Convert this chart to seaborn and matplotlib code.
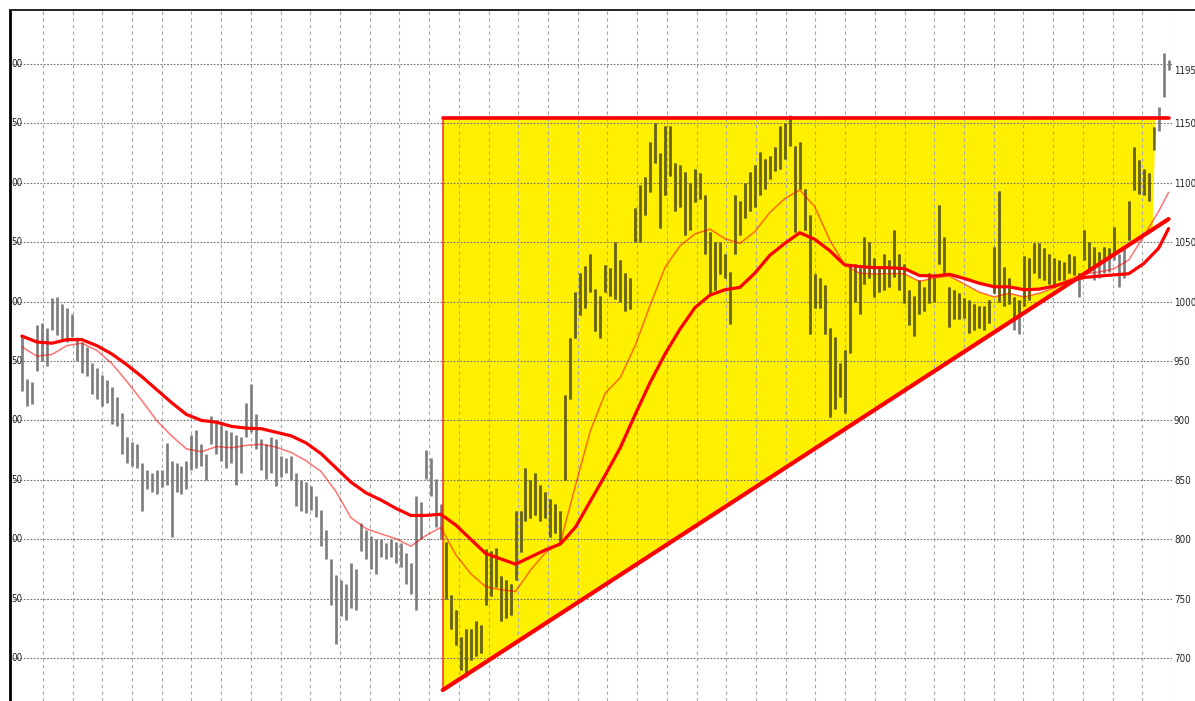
import numpy as np
import matplotlib
matplotlib.use("Agg")
import matplotlib.pyplot as plt
import matplotlib.transforms as mtransforms
from matplotlib import font_manager
from matplotlib.lines import Line2D
import seaborn as sns

# ---------------------------------------------------------------------------
# DATA  (one bar per ~5 px)
# ---------------------------------------------------------------------------
highs = [
    972, 935, 932, 980, 982, 978, 1003, 1004, 998, 995,
    990, 970, 966, 962, 948, 944, 938, 934, 928, 920,
    906, 886, 882, 880, 864, 858, 856, 858, 858, 881,
    866, 864, 862, 866, 888, 892, 880, 872, 904, 900,
    896, 892, 890, 888, 886, 915, 931, 905, 884, 880,
    886, 884, 870, 868, 870, 856, 850, 848, 845, 836,
    825, 808, 783, 770, 766, 762, 780, 775, 814, 808,
    803, 800, 800, 797, 800, 798, 797, 788, 780, 836,
    831, 875, 868, 851, 830, 798, 753, 740, 718, 724,
    724, 731, 728, 792, 790, 793, 769, 766, 762, 824,
    824, 860, 850, 856, 846, 840, 834, 830, 824, 921,
    969, 1008, 1024, 1030, 1040, 1011, 1005, 1031, 1028, 1050,
    1035, 1024, 1020, 1079, 1098, 1105, 1134, 1150, 1125, 1148,
    1148, 1117, 1115, 1109, 1100, 1112, 1108, 1090, 1059, 1050,
    1050, 1040, 1025, 1090, 1085, 1100, 1109, 1115, 1126, 1120,
    1123, 1130, 1148, 1150, 1157, 1131, 1134, 1095, 1073, 1023,
    1020, 1014, 978, 970, 948, 959, 1032, 1032, 1028, 1054,
    1050, 1037, 1030, 1040, 1035, 1060, 1040, 1032, 1010, 1005,
    1018, 1012, 1024, 1020, 1081, 1054, 1012, 1010, 1007, 1003,
    1001, 998, 996, 996, 1001, 1046, 1093, 1029, 1020, 1004,
    1001, 1038, 1037, 1049, 1049, 1045, 1040, 1037, 1035, 1033,
    1040, 1038, 1024, 1060, 1050, 1046, 1042, 1046, 1045, 1063,
    1040, 1045, 1085, 1130, 1119, 1112, 1108, 1147, 1164, 1209, 1203,
]
lows = [
    925, 912, 914, 942, 950, 946, 976, 972, 968, 966,
    970, 950, 940, 937, 922, 918, 912, 915, 897, 895,
    872, 864, 862, 860, 824, 842, 840, 838, 844, 846,
    802, 840, 838, 842, 858, 860, 862, 850, 880, 872,
    866, 860, 864, 846, 856, 886, 890, 876, 858, 851,
    856, 845, 852, 856, 850, 828, 824, 822, 825, 819,
    794, 783, 745, 712, 735, 732, 742, 740, 790, 783,
    775, 771, 785, 783, 785, 780, 777, 762, 754, 740,
    800, 851, 836, 810, 800, 750, 724, 711, 690, 684,
    698, 702, 704, 745, 752, 760, 731, 734, 736, 766,
    789, 815, 818, 820, 815, 818, 802, 805, 798, 850,
    918, 969, 989, 995, 1008, 975, 969, 1008, 1005, 1002,
    1000, 992, 994, 1050, 1050, 1073, 1092, 1117, 1062, 1090,
    1106, 1076, 1080, 1056, 1060, 1084, 1086, 1040, 1006, 1010,
    1023, 1020, 981, 1040, 1056, 1070, 1076, 1080, 1090, 1095,
    1103, 1110, 1112, 1120, 1131, 1059, 1095, 1060, 973, 995,
    995, 973, 903, 910, 920, 906, 957, 1000, 990, 1015,
    1020, 1004, 1008, 1010, 1012, 1021, 1010, 999, 980, 971,
    990, 992, 999, 1000, 1032, 1024, 979, 985, 985, 986,
    974, 976, 978, 976, 982, 1007, 1000, 996, 998, 976,
    973, 996, 1001, 1024, 1020, 1018, 1015, 1012, 1018, 1018,
    1024, 1022, 1004, 1035, 1025, 1018, 1020, 1024, 1025, 1035,
    1012, 1020, 1052, 1094, 1091, 1090, 1085, 1128, 1144, 1172, 1195,
]

# moving averages, read every third bar (plus the last bar)
ma_slow = [
    971, 966, 965, 968, 968, 963, 956, 947, 937, 926,
    915, 905, 900, 898.5, 895, 893.5, 893, 890, 887, 881,
    872, 860, 848, 839, 833, 826, 820, 820, 821, 812,
    800, 788, 783.5, 779, 785, 791, 796, 810, 832, 854,
    877, 905, 932, 956, 977, 995, 1005.5, 1010, 1012, 1024,
    1039, 1049, 1058, 1052.5, 1043, 1031, 1029.5, 1028.6, 1028.5, 1027.8,
    1022, 1021.5, 1023, 1019.5, 1015.5, 1012.5, 1012.5, 1010, 1010.5, 1013,
    1017, 1020.3, 1021.5, 1022.5, 1023.5, 1032, 1045, 1061.5,
]
ma_fast = [
    962, 954, 955.5, 963, 965, 959, 948, 933, 917, 900,
    887, 876, 873.6, 878, 877, 879, 880, 877.5, 873, 866,
    857, 840, 818, 809, 804.5, 800.5, 794, 803, 810, 787,
    771, 760, 757.5, 756, 774, 788.7, 797, 845, 891, 923,
    936, 963, 997, 1029, 1047, 1057, 1061, 1053, 1049, 1059,
    1075, 1086.7, 1094, 1080, 1052, 1031, 1024, 1023.3, 1023.6, 1023.6,
    1017, 1020, 1021.5, 1015, 1008, 1004, 1007, 1004, 1007, 1011.5,
    1018.5, 1023, 1025, 1027.5, 1035, 1055, 1076, 1092,
]

# ascending triangle drawn on the chart
tri_start = 84.4        # bar index of the left edge
tri_end = 230           # bar index where the lines stop
tri_fill_end = 227.4    # yellow fill stops a little earlier
resistance = 1155
support_start = 673
support_end = 1069.5

price_ticks = [700, 750, 800, 850, 900, 950, 1000, 1050, 1100, 1150, 1200]
last_price = 1195

# ---------------------------------------------------------------------------
# STYLE
# ---------------------------------------------------------------------------
sns.set_style("white")
plt.rcParams["font.family"] = ["Liberation Sans", "DejaVu Sans"]


def pick_narrow_font():
    # the price scale uses a condensed face; take one if the system has it
    cands = []
    for f in font_manager.fontManager.ttflist:
        if f.style != "normal" or f.weight not in (400, "normal", "regular", "book"):
            continue
        narrow = ("Narrow" in f.name or "Condensed" in f.name
                  or f.stretch in ("condensed", "semi-condensed", "extra-condensed"))
        if narrow:
            rank = 0 if "Liberation" in f.name else 1
            cands.append((rank, f.fname))
    if cands:
        cands.sort()
        return font_manager.FontProperties(fname=cands[0][1]), True
    return font_manager.FontProperties(family="Liberation Sans"), False


label_font, is_narrow = pick_narrow_font()
label_font.set_size(7.0 if is_narrow else 5.8)

RED = "#ff0000"
YELLOW = "#fff000"
BAR_GREY = "#7c7c7c"
BAR_OLIVE = "#6b6600"

bars = np.arange(len(highs))
ma_bar = list(range(0, 229, 3)) + [230]

fig = plt.figure(figsize=(11.95, 7.01), dpi=100)
ax = fig.add_axes([10 / 1195, 0, 1162 / 1195, 691 / 701])

# yellow triangle
def support_at(b):
    return support_start + (support_end - support_start) * (b - tri_start) / (tri_end - tri_start)

tri_patch = ax.fill(
    [tri_start, tri_start, tri_fill_end, tri_fill_end - 0.6],
    [support_start, resistance, resistance, support_at(tri_fill_end - 0.6)],
    color=YELLOW, lw=0, zorder=1,
)[0]

# little white gaps between the averages where they run close together
ma_slow_a = np.array(ma_slow)
ma_fast_a = np.array(ma_fast)
close = (np.abs(ma_slow_a - ma_fast_a) < 9) & (np.array(ma_bar) >= 100)
ax.fill_between(ma_bar, ma_slow_a, ma_fast_a, where=close, interpolate=True,
                color="white", lw=0, zorder=1.2)

# price bars: grey on white, olive on the yellow
ax.vlines(bars, lows, highs, color=BAR_GREY, lw=1.9, zorder=2)
olive = ax.vlines(bars, lows, highs, color=BAR_OLIVE, lw=1.9, zorder=2.1)
olive.set_clip_path(tri_patch)

# moving averages
sns.lineplot(x=ma_bar, y=ma_fast, ax=ax, color=RED, alpha=0.55, lw=1.1, zorder=3)
sns.lineplot(x=ma_bar, y=ma_slow, ax=ax, color=RED, lw=2.3, zorder=4)

# triangle outline
ax.plot([tri_start, tri_end], [support_start, support_end], color=RED, lw=3.0, zorder=5)
ax.plot([tri_start, tri_end], [resistance, resistance], color=RED, lw=2.6, zorder=5)
ax.plot([tri_start, tri_start], [support_start, resistance], color=RED, lw=1.1,
        alpha=0.8, zorder=5)

# axes, grid
ax.set_xlim(-2.4, 230)
ax.set_ylim(663.8, 1245.5)
ax.set_axisbelow("line")
ax.set_xticks(np.arange(4.2, 231, 5.96))
ax.xaxis.grid(True, color="#a5a5a5", ls=(0, (3, 3)), lw=0.8)
ax.set_yticks(price_ticks, labels=[str(p) if p != 1200 else "" for p in price_ticks])
ax.set_yticks([last_price], labels=[str(last_price)], minor=True)
ax.yaxis.grid(True, which="major", color="#6e6e6e", ls=(0, (1.5, 1.5)), lw=0.8)
ax.yaxis.tick_right()
ax.tick_params(axis="x", length=0, labelbottom=False)
ax.tick_params(axis="y", which="both", length=0, pad=1.4, labelcolor="#222222")
for lab in ax.get_yticklabels(which="both"):
    lab.set_fontproperties(label_font)

for side in ["right", "bottom"]:
    ax.spines[side].set_visible(False)
ax.spines["left"].set_linewidth(2.0)
ax.spines["left"].set_color("black")
ax.spines["top"].set_linewidth(1.4)
ax.spines["top"].set_color("#222222")
fig.add_artist(Line2D([1172 / 1195, 1], [691 / 701, 691 / 701], color="#222222",
                      lw=1.4, transform=fig.transFigure))

# left price scale: only the last two digits are visible in the image
left_tr = mtransforms.blended_transform_factory(ax.transAxes, ax.transData)
for p in price_ticks:
    ax.text(1.0 / 1162, p, str(p)[-2:], transform=left_tr, ha="left", va="center",
            fontproperties=label_font, color="#222222", clip_on=False, zorder=6)

fig.savefig("out.png", dpi=100)
